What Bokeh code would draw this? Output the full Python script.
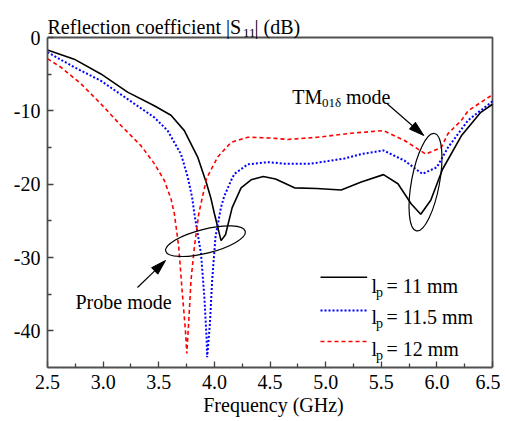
from bokeh.plotting import figure
from bokeh.models import Label, FixedTicker, Range1d
from bokeh.embed import file_html
from bokeh.resources import INLINE
import math

# ---------------- data ----------------
freq_11 = [2.50, 2.74, 2.98, 3.22, 3.46, 3.61, 3.73, 3.85, 3.93, 3.97, 4.00, 4.06, 4.10, 4.16, 4.24,
           4.33, 4.44, 4.55, 4.72, 4.92, 5.14, 5.32, 5.52, 5.65, 5.77, 5.855, 5.945, 6.05, 6.22, 6.395, 6.50]
s11_11 = [-1.7, -2.95, -4.97, -7.45, -9.3, -10.6, -12.7, -16.3, -19.9, -22.0, -24.0, -27.7, -26.9, -23.2, -20.5,
          -19.4, -18.95, -19.3, -20.5, -20.6, -20.8, -19.7, -18.7, -19.95, -22.7, -24.1, -22.2, -18.0, -13.4, -10.2, -9.1]

freq_115 = [2.50, 2.74, 2.98, 3.22, 3.46, 3.58, 3.70, 3.76, 3.80, 3.82, 3.88, 3.91, 3.93, 3.935, 3.96, 3.98,
            4.01, 4.06, 4.09, 4.15, 4.18, 4.30, 4.48, 4.63, 4.87, 5.17, 5.32, 5.52, 5.71, 5.87, 6.00, 6.10, 6.28, 6.50]
s11_115 = [-2.0, -4.05, -5.9, -8.4, -10.9, -12.7, -15.9, -19.0, -21.8, -24.0, -29.5, -35.4, -41.0, -43.6, -39.0, -33.1,
           -27.2, -23.1, -21.6, -19.5, -18.6, -17.3, -17.0, -17.2, -17.2, -16.5, -15.9, -15.4, -16.8, -18.6, -17.7, -15.0, -11.3, -8.7]

freq_12 = [2.50, 2.62, 2.80, 2.98, 3.16, 3.34, 3.46, 3.55, 3.61, 3.64, 3.68, 3.71, 3.74, 3.752, 3.77, 3.79,
           3.82, 3.86, 3.93, 4.03, 4.15, 4.30, 4.49, 4.66, 4.93, 5.23, 5.52, 5.71, 5.90, 6.04, 6.10, 6.22, 6.28, 6.50]
s11_12 = [-2.9, -4.05, -6.3, -9.05, -12.0, -14.75, -17.2, -19.5, -22.0, -24.0, -28.6, -34.5, -40.0, -43.1, -38.6, -33.1,
          -28.6, -24.0, -19.2, -16.3, -14.3, -13.6, -13.7, -13.9, -13.6, -13.05, -12.7, -14.05, -15.9, -15.0, -13.1, -11.3, -10.0, -7.8]

X_TICKS = [2.5, 3.0, 3.5, 4.0, 4.5, 5.0, 5.5, 6.0, 6.5]
X_TICK_LABELS = ["2.5", "3.0", "3.5", "4.0", "4.5", "5.0", "5.5", "6.0", "6.5"]
X_MINOR = [2.75, 3.25, 3.75, 4.25, 4.75, 5.25, 5.75, 6.25]
Y_TICKS = [-40, -30, -20, -10, 0]
Y_TICK_LABELS = ["-40", "-30", "-20", "-10", "0"]
Y_MINOR = [-35, -25, -15, -5]

SERIES_LABELS = ["11", "11.5", "12"]

# ---------------- layout ----------------
FONT = "Liberation Serif"
X0, X1, Y0, Y1 = 2.5, 6.5, -45.0, 0.0
PX_PER_X = 445 / 4.0      # px per GHz
PX_PER_Y = 330 / 45.0     # px per dB
FL, FT = 47, 37           # canvas position of (2.5 GHz, 0 dB) corner
W, H = 500, 420
BL, BR, BB = FL, 1, 53
FRAME_W = W - BL - BR
FRAME_H = H - BB
X_END = X0 + FRAME_W / PX_PER_X
Y_TOP = Y0 + FRAME_H / PX_PER_Y

BLUE_DASH = "2 2"
RED_DASH = "4 3"
AX_COLOR = "#505050"


def dx(px):
    return X0 + (px - FL) / PX_PER_X


def dy(py):
    return Y1 - (py - FT) / PX_PER_Y


p = figure(width=W, height=H, output_backend="svg", toolbar_location=None,
           x_range=Range1d(X0, X_END), y_range=Range1d(Y0, Y_TOP),
           min_border_left=BL, min_border_top=0, min_border_right=BR, min_border_bottom=BB)
p.background_fill_color = "white"
p.border_fill_color = "white"
p.outline_line_color = None
p.xgrid.visible = False
p.ygrid.visible = False

for ax in (p.xaxis[0], p.yaxis[0]):
    ax.axis_line_color = AX_COLOR
    ax.axis_line_width = 1.8
    ax.major_tick_line_color = "#404040"
    ax.minor_tick_line_color = "#404040"
    ax.major_tick_line_width = 1.3
    ax.minor_tick_line_width = 1.3
    ax.major_tick_in = 6
    ax.major_tick_out = 0
    ax.minor_tick_in = 4
    ax.minor_tick_out = 0
    ax.major_label_text_font = FONT
    ax.major_label_text_font_size = "20px"
    ax.major_label_text_color = "black"
    ax.axis_label_text_font = FONT
    ax.axis_label_text_font_size = "20px"
    ax.axis_label_text_font_style = "normal"
    ax.axis_label_text_color = "black"

p.xaxis.bounds = (X0, X1)
p.yaxis.bounds = (Y0, Y1)
p.xaxis.ticker = FixedTicker(ticks=X_TICKS, minor_ticks=X_MINOR)
p.xaxis.major_label_overrides = dict(zip(X_TICKS, X_TICK_LABELS))
p.yaxis.ticker = FixedTicker(ticks=Y_TICKS, minor_ticks=Y_MINOR)
p.yaxis.major_label_overrides = dict(zip(Y_TICKS, Y_TICK_LABELS))
p.xaxis.axis_label = "Frequency (GHz)"
p.xaxis.major_label_standoff = 7
p.xaxis.axis_label_standoff = 2
p.yaxis.major_label_standoff = 7

# top and right sides of the box
p.line([X0, X1, X1], [Y1, Y1, Y0], line_color=AX_COLOR, line_width=1.8)

# curves
p.line(freq_11, s11_11, line_color="black", line_width=1.6)
p.line(freq_115, s11_115, line_color="#0000ff", line_width=2, line_dash=BLUE_DASH)
p.line(freq_12, s11_12, line_color="#ff0000", line_width=1.6, line_dash=RED_DASH)

# ellipses (annotations)
p.ellipse(x=[dx(205)], y=[dy(240.7)], width=[82], height=[24], angle=[0.245],
          width_units="screen", height_units="screen",
          fill_color=None, line_color="black", line_width=1.2)
p.ellipse(x=[dx(425)], y=[dy(181.7)], width=[99], height=[28], angle=[1.387],
          width_units="screen", height_units="screen",
          fill_color=None, line_color="black", line_width=1.2)


def arrow(sx, sy, tx, ty, L=15, w=4.5):
    ux, uy = tx - sx, ty - sy
    n = math.hypot(ux, uy)
    ux, uy = ux / n, uy / n
    bx, by = tx - L * ux, ty - L * uy
    nx, ny = -uy, ux
    p.line([dx(sx), dx(bx)], [dy(sy), dy(by)], line_color="black", line_width=1.2)
    p.patch([dx(tx), dx(bx + w * nx), dx(bx - w * nx)], [dy(ty), dy(by + w * ny), dy(by - w * ny)],
            fill_color="black", line_color="black", line_width=1)


arrow(137, 287, 165, 260)
arrow(386.7, 103.3, 423.3, 135)


def label(px, py, text, size=20):
    p.add_layout(Label(x=dx(px), y=dy(py), text=text, text_font=FONT, text_font_size=f"{size}px",
                       text_baseline="alphabetic", text_align="left", text_color="black"))


# title (y-axis label written horizontally)
label(47, 26, "Reflection coefficient |S")
label(242.5, 32.5, "11", 13)
label(254, 26, "| (dB)")

# annotations
label(75, 301.7, "Probe mode")
label(291.7, 96.7, "TM")
label(321.5, 101.5, "01\u03b4", 13)
label(345.5, 96.7, "mode")

# legend
leg_line_y = [276.7, 310, 341]
leg_text_y = [285, 316.7, 348.3]
styles = [dict(line_color="black", line_width=1.6),
          dict(line_color="#0000ff", line_width=2, line_dash=BLUE_DASH),
          dict(line_color="#ff0000", line_width=1.6, line_dash=RED_DASH)]
for ly, ty, st, lab in zip(leg_line_y, leg_text_y, styles, SERIES_LABELS):
    p.line([dx(320), dx(366.7)], [dy(ly), dy(ly)], **st)
    label(371, ty, "l")
    label(375.5, ty + 6.5, "p", 14)
    label(386, ty, f"= {lab} mm")

open("out.html", "w").write(file_html(p, INLINE))
